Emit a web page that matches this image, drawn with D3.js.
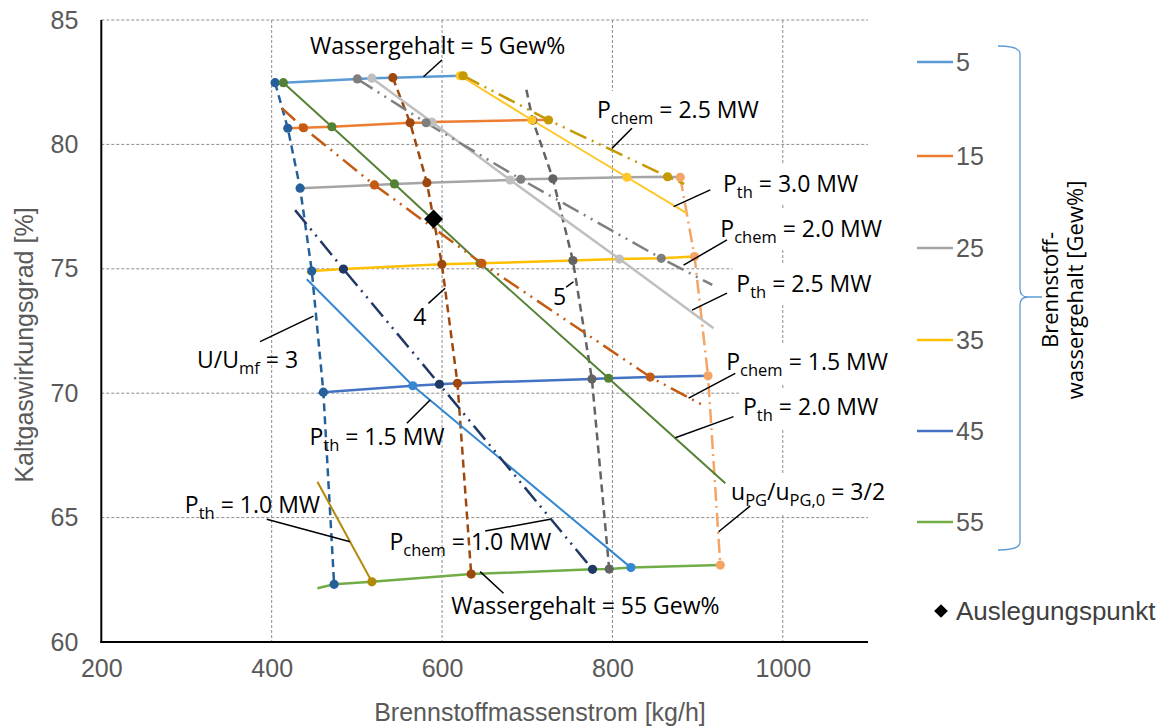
<!DOCTYPE html>
<html>
<head>
<meta charset="utf-8">
<script src="https://cdn.jsdelivr.net/npm/d3@7/dist/d3.min.js"></script>
<style>
  body { margin: 0; background: #fff; }
  svg { display: block; font-family: 'Liberation Sans', Arial, sans-serif; }
  .tickLabel { fill: #595959; font-size: 25px; }
  .axisTitle { fill: #595959; font-size: 25px; }
  .annotationLabel { font-family: 'Open Sans', Lato, sans-serif; font-size: 23px; fill: #000; }
  .legendLabel { fill: #595959; font-size: 25px; }
</style>
</head>
<body>
<div id="chart"></div>
<script>
/* global d3 */

// axis ticks
const xTicks = [200, 400, 600, 800, 1000];
const yTicks = [60, 65, 70, 75, 80, 85];

// water content lines [kg/h, %]
const waterLevels = [5, 15, 25, 35, 45, 55];
const water5 = [[404.0, 82.48], [413.7, 82.48], [500.6, 82.63], [517.6, 82.66], [542.2, 82.68], [621.3, 82.76], [624.8, 82.76]];
const water15 = [[418.9, 80.65], [437.2, 80.67], [470.6, 80.71], [562.5, 80.87], [581.3, 80.87], [588.0, 80.90], [705.5, 80.98], [725.0, 80.98]];
const water25 = [[433.4, 78.24], [520.6, 78.37], [544.1, 78.41], [582.2, 78.46], [680.0, 78.57], [692.5, 78.60], [730.1, 78.62], [817.0, 78.68], [864.7, 78.70], [879.6, 78.68]];
const water35 = [[441.2, 74.84], [447.1, 74.91], [484.2, 74.99], [599.8, 75.18], [644.7, 75.22], [753.6, 75.33], [808.3, 75.39], [857.3, 75.42], [896.4, 75.49]];
const water45 = [[454.8, 70.00], [460.7, 70.04], [565.7, 70.30], [596.9, 70.36], [618.1, 70.40], [775.9, 70.57], [795.4, 70.60], [844.4, 70.65], [912.2, 70.70]];
const water55 = [[453.7, 62.16], [473.3, 62.32], [517.6, 62.42], [634.2, 62.73], [776.6, 62.92], [796.2, 62.93], [821.7, 62.99], [926.6, 63.09]];

// U/Umf lines [kg/h, %, marker]
const umf3 = [[404.0, 82.48, 1], [418.9, 80.65, 1], [433.4, 78.24, 1], [447.1, 74.91, 1], [460.7, 70.04, 1], [473.3, 62.32, 1]];
const umf4 = [[542.2, 82.68, 1], [562.5, 80.87, 1], [582.2, 78.46, 1], [599.8, 75.18, 1], [618.1, 70.40, 1], [634.2, 62.73, 1]];
const umf5 = [[699.0, 82.2, 0], [706.5, 80.97, 1], [730.1, 78.62, 1], [753.6, 75.33, 1], [775.9, 70.57, 1], [796.2, 62.93, 1]];
// uPG/uPG,0 = 3/2
const upg = [[879.6, 78.68, 1], [896.4, 75.49, 1], [912.2, 70.70, 1], [926.6, 63.09, 1]];

// thermal power lines
const pth10 = [[453.7, 66.44, 0], [517.6, 62.42, 1]];
const pth15 = [[441.2, 74.58, 0], [565.7, 70.30, 1], [821.7, 62.99, 1]];
const pth20 = [[413.7, 82.48, 1], [470.6, 80.71, 1], [544.1, 78.41, 1], [644.7, 75.22, 1], [795.4, 70.60, 1], [932.5, 66.38, 0]];
const pth25 = [[517.6, 82.66, 1], [588.0, 80.90, 1], [680.0, 78.57, 1], [808.3, 75.39, 1], [918.7, 72.61, 0]];
const pth30 = [[621.3, 82.76, 1], [705.5, 80.98, 1], [817.0, 78.68, 1], [887.5, 77.23, 0]];

// chemical power lines
const pch10 = [[427.5, 77.36, 0], [484.2, 74.99, 1], [596.9, 70.36, 1], [776.6, 62.92, 1]];
const pch15 = [[411.9, 81.46, 0], [437.2, 80.67, 1], [520.6, 78.37, 1], [646.7, 75.22, 1], [844.4, 70.65, 1], [907.8, 69.49, 0]];
const pch20 = [[500.6, 82.63, 1], [581.3, 80.87, 1], [692.5, 78.60, 1], [857.3, 75.42, 1], [917.2, 74.35, 0]];
const pch25 = [[624.8, 82.76, 1], [725.0, 80.98, 1], [864.7, 78.70, 1], [884.3, 78.41, 0]];

// design point
const designPoint = [[590.0, 77.0]];

const width = 1160;
const height = 728;
const margins = { top: 20, bottom: 86, left: 101.3, right: 292 };

const svg = d3.select('#chart').append('svg')
  .attr('width', width)
  .attr('height', height);

const xScale = d3.scaleLinear()
  .domain([200, 1100])
  .range([margins.left, width - margins.right]);

const yScale = d3.scaleLinear()
  .domain([60, 85])
  .range([height - margins.bottom, margins.top]);

// gridlines
const gridGroup = svg.append('g').attr('class', 'grid');
gridGroup.selectAll('.hGrid')
  .data(yTicks.filter((d) => d > 60))
  .enter().append('line')
  .attr('x1', xScale(200))
  .attr('x2', xScale(1100))
  .attr('y1', (d) => yScale(d))
  .attr('y2', (d) => yScale(d))
  .style('stroke', '#8c8c8c')
  .style('stroke-width', 1)
  .style('stroke-dasharray', '3,2');

gridGroup.selectAll('.vGrid')
  .data(xTicks.filter((d) => d > 200))
  .enter().append('line')
  .attr('x1', (d) => xScale(d))
  .attr('x2', (d) => xScale(d))
  .attr('y1', yScale(85))
  .attr('y2', yScale(60))
  .style('stroke', '#8c8c8c')
  .style('stroke-width', 1)
  .style('stroke-dasharray', '3,2');

// white boxes of the data labels sit over the grid
const boxGroup = svg.append('g').attr('class', 'labelBoxes');

// axes
const yAxis = d3.axisLeft(yScale).tickValues(yTicks).tickSize(0).tickPadding(23).tickFormat(d3.format('d'));
const yAxisGroup = svg.append('g')
  .attr('transform', `translate(${xScale(200)},0)`)
  .call(yAxis);
yAxisGroup.select('.domain').remove();
yAxisGroup.selectAll('.tick text').attr('class', 'tickLabel').attr('font-family', null).attr('font-size', null);

const xAxis = d3.axisBottom(xScale).tickValues(xTicks).tickSize(0).tickPadding(17).tickFormat(d3.format('d'));
const xAxisGroup = svg.append('g')
  .attr('transform', `translate(0,${yScale(60)})`)
  .call(xAxis);
xAxisGroup.select('.domain').remove();
xAxisGroup.selectAll('.tick text').attr('class', 'tickLabel').attr('font-family', null).attr('font-size', null);

svg.append('line')
  .attr('x1', xScale(200)).attr('x2', xScale(200))
  .attr('y1', yScale(85)).attr('y2', yScale(60) + 1)
  .style('stroke', '#000').style('stroke-width', 2);
svg.append('line')
  .attr('x1', xScale(200) - 1).attr('x2', xScale(1100))
  .attr('y1', yScale(60)).attr('y2', yScale(60))
  .style('stroke', '#000').style('stroke-width', 2);

svg.append('text')
  .attr('class', 'axisTitle')
  .attr('text-anchor', 'middle')
  .attr('x', 540)
  .attr('y', 721)
  .text('Brennstoffmassenstrom [kg/h]');

svg.append('text')
  .attr('class', 'axisTitle')
  .attr('text-anchor', 'middle')
  .attr('transform', 'translate(33,345) rotate(-90)')
  .text('Kaltgaswirkungsgrad [%]');

// series
const lineGen = d3.line()
  .x((d) => xScale(d[0]))
  .y((d) => yScale(d[1]));

const waterSeries = [
  { data: water5, color: '#5B9BD5' },
  { data: water15, color: '#ED7D31' },
  { data: water25, color: '#A5A5A5' },
  { data: water35, color: '#FFC000' },
  { data: water45, color: '#4472C4' },
  { data: water55, color: '#70AD47' },
];

const dashU = '8,5';
const dashP = '18,6,2,6,2,6';
const curveSeries = [
  { data: umf3, color: '#25609A', dash: dashU, w: 2.5 },
  { data: umf4, color: '#9E480E', dash: dashU, w: 2.5 },
  { data: umf5, color: '#636363', dash: dashU, w: 2.5 },
  { data: upg, color: '#F4A566', dash: '14,5,2,5', w: 2.5 },
  { data: pth10, color: '#B38A08', dash: null, w: 2 },
  { data: pth15, color: '#3487D2', dash: null, w: 2 },
  { data: pth20, color: '#548235', dash: null, w: 2 },
  { data: pth25, color: '#BFBFBF', dash: null, w: 2.5 },
  { data: pth30, color: '#FFC629', dash: null, w: 2 },
  { data: pch10, color: '#203864', dash: dashP, w: 2.5 },
  { data: pch15, color: '#C55A11', dash: dashP, w: 2.5 },
  { data: pch20, color: '#7F7F7F', dash: dashP, w: 2.5 },
  { data: pch25, color: '#C59A00', dash: dashP, w: 2.5 },
];

const lineGroup = svg.append('g').attr('class', 'lineGroup');

lineGroup.selectAll('.waterLine')
  .data(waterSeries)
  .enter().append('path')
  .attr('class', 'waterLine')
  .attr('d', (d) => lineGen(d.data))
  .style('fill', 'none')
  .style('stroke', (d) => d.color)
  .style('stroke-width', 2.5);

lineGroup.selectAll('.curveLine')
  .data(curveSeries)
  .enter().append('path')
  .attr('class', 'curveLine')
  .attr('d', (d) => lineGen(d.data))
  .style('fill', 'none')
  .style('stroke', (d) => d.color)
  .style('stroke-width', (d) => d.w)
  .style('stroke-dasharray', (d) => d.dash);

const markerGroup = svg.append('g').attr('class', 'markerGroup');
curveSeries.forEach((s) => {
  markerGroup.selectAll(null)
    .data(s.data.filter((d) => d[2] === 1))
    .enter().append('circle')
    .attr('cx', (d) => xScale(d[0]))
    .attr('cy', (d) => yScale(d[1]))
    .attr('r', 4.6)
    .style('fill', s.color);
});

markerGroup.selectAll('.design')
  .data(designPoint)
  .enter().append('path')
  .attr('class', 'design')
  .attr('transform', (d) => `translate(${xScale(d[0])},${yScale(d[1])})`)
  .attr('d', d3.symbol(d3.symbolDiamond2, 230)())
  .style('fill', '#000');

// annotations: text parts [text, subscript], anchor in data units, callout in data units
const annotations = [
  { parts: [['Wassergehalt = 5 Gew%']], x: 445.1, y: 83.63, line: [[599.8, 83.39], [578.2, 82.72]] },
  { parts: [['P'], ['chem', 1], [' = 2.5 MW']], x: 781.8, y: 81.06, box: 1, line: [[822.9, 80.65], [799.4, 79.84]] },
  { parts: [['P'], ['th', 1], [' = 3.0 MW']], x: 929.8, y: 78.09, box: 1, line: [[914.9, 78.17], [871.8, 77.50]] },
  { parts: [['P'], ['chem', 1], [' = 2.0 MW']], x: 926.6, y: 76.28, box: 1, line: [[934.5, 76.16], [883.5, 75.15]] },
  { parts: [['P'], ['th', 1], [' = 2.5 MW']], x: 945.4, y: 74.07, box: 1, line: [[934.5, 74.02], [893.4, 73.34]] },
  { parts: [['P'], ['chem', 1], [' = 1.5 MW']], x: 933.6, y: 70.93, box: 1, line: [[944.2, 70.80], [889.4, 69.80]] },
  { parts: [['P'], ['th', 1], [' = 2.0 MW']], x: 953.3, y: 69.12, box: 1, line: [[942.2, 69.06], [873.8, 68.21]] },
  { parts: [['u'], ['PG', 1], ['/u'], ['PG,0', 1], [' = 3/2']], x: 939.2, y: 65.71, box: 1, line: [[961.8, 65.47], [924.6, 64.43]] },
  { parts: [['U/U'], ['mf', 1], [' = 3']], x: 312.4, y: 71.01, line: [[386.4, 72.07], [449.0, 73.10]] },
  { parts: [['4']], x: 566.1, y: 72.74, line: [[584.0, 73.61], [603.6, 74.22]] },
  { parts: [['5']], x: 730.1, y: 73.54, line: [[745.7, 74.26], [754.3, 74.48]] },
  { parts: [['P'], ['th', 1], [' = 1.5 MW']], x: 444.3, y: 67.92, line: [[558.7, 68.79], [586.0, 69.73]] },
  { parts: [['P'], ['th', 1], [' = 1.0 MW']], x: 456.8, y: 65.18, anchor: 'end', line: [[394.2, 64.93], [492.1, 64.03]] },
  { parts: [['P'], ['chem', 1], [' = 1.0 MW']], x: 538.2, y: 63.70, line: [[650.6, 64.46], [727.0, 64.93]] },
  { parts: [['Wassergehalt = 55 Gew%']], x: 610.7, y: 61.13, line: [[644.7, 62.83], [672.1, 61.96]] },
];

const annotationGroup = svg.append('g').attr('class', 'annotationGroup');

annotationGroup.selectAll('.callout')
  .data(annotations)
  .enter().append('line')
  .attr('class', 'callout')
  .attr('x1', (d) => xScale(d.line[0][0]))
  .attr('y1', (d) => yScale(d.line[0][1]))
  .attr('x2', (d) => xScale(d.line[1][0]))
  .attr('y2', (d) => yScale(d.line[1][1]))
  .style('stroke', '#000')
  .style('stroke-width', 1.5);

annotations.forEach((a) => {
  const label = annotationGroup.append('text')
    .attr('class', 'annotationLabel')
    .attr('x', xScale(a.x))
    .attr('y', yScale(a.y))
    .attr('text-anchor', a.anchor || 'start');
  let shifted = 0;
  a.parts.forEach((p) => {
    const sub = p[1] === 1;
    const shift = sub ? 6 : 0;
    label.append('tspan')
      .attr('dy', shift - shifted)
      .attr('font-size', sub ? 16.5 : null)
      .text(p[0]);
    shifted = shift;
  });
  if (a.box) {
    const bb = label.node().getBBox();
    boxGroup.append('rect')
      .attr('x', bb.x - 4)
      .attr('y', bb.y - 2)
      .attr('width', bb.width + 8)
      .attr('height', bb.height + 4)
      .style('fill', '#fff');
  }
});

// legend
const legendColors = waterSeries.map((d) => d.color);
const legendY = [62, 156, 248, 340, 431, 522];
const legendGroup = svg.append('g').attr('class', 'legend');

legendGroup.selectAll('.legendLine')
  .data(waterLevels)
  .enter().append('line')
  .attr('x1', 917)
  .attr('x2', 953)
  .attr('y1', (d, i) => legendY[i])
  .attr('y2', (d, i) => legendY[i])
  .style('stroke', (d, i) => legendColors[i])
  .style('stroke-width', 2.5);

legendGroup.selectAll('.legendLabel')
  .data(waterLevels)
  .enter().append('text')
  .attr('class', 'legendLabel')
  .attr('x', 956)
  .attr('y', (d, i) => legendY[i] + 9)
  .text((d) => d);

legendGroup.append('path')
  .attr('d', 'M998,46 Q1020,46 1020,54 L1020,289 Q1020,297 1028,297 L1042,297 M1028,297 Q1020,297 1020,305 L1020,542 Q1020,550 998,550')
  .style('fill', 'none')
  .style('stroke', '#5B9BD5')
  .style('stroke-width', 1.3);

const legendTitle = legendGroup.append('text')
  .attr('class', 'annotationLabel')
  .style('font-size', '22px')
  .attr('text-anchor', 'middle')
  .attr('transform', 'translate(1058,290) rotate(-90)');
legendTitle.append('tspan').attr('x', 0).attr('dy', 0).text('Brennstoff-');
legendTitle.append('tspan').attr('x', 0).attr('dy', 25).text('wassergehalt [Gew%]');

legendGroup.append('path')
  .attr('transform', 'translate(941,611)')
  .attr('d', d3.symbol(d3.symbolDiamond2, 120)())
  .style('fill', '#000');

legendGroup.append('text')
  .attr('class', 'legendLabel')
  .attr('x', 956)
  .attr('y', 620)
  .style('fill', '#404040')
  .style('font-size', '26px')
  .text('Auslegungspunkt');
</script>
</body>
</html>
